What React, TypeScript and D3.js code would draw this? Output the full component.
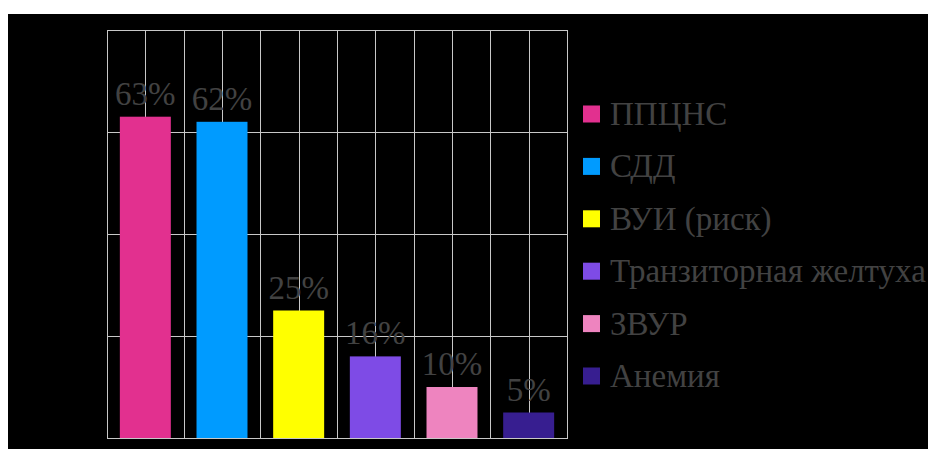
import React from 'react';
import {scaleBand, scaleLinear, range} from 'd3';

// данные диаграммы
const categories = ['ППЦНС', 'СДД', 'ВУИ (риск)', 'Транзиторная желтуха', 'ЗВУР', 'Анемия'];
const values = [63, 62, 25, 16, 10, 5];
const labels = ['63%', '62%', '25%', '16%', '10%', '5%'];
const colors = ['#E2308F', '#009BFF', '#FFFF00', '#7E4BE6', '#EE84BF', '#371E90'];

const W = 920;
const H = 435;
const plot = {left: 99, right: 559, top: 16, bottom: 424};
const serif = {fontFamily: '"Liberation Serif", "Times New Roman", Times, serif'};

const App = () => {
    const x = scaleBand<string>()
        .domain(categories)
        .range([plot.left, plot.right])
        .padding(0);

    const y = scaleLinear()
        .domain([0, 80])
        .range([plot.bottom, plot.top]);

    const bw = x.bandwidth();
    const barW = bw * 0.665;

    // вертикальная сетка: границы и центры категорий
    const vLines = range(categories.length * 2 + 1).map(i => Math.round(plot.left + (i * bw) / 2) + 0.5);
    const hLines = y.ticks(4);

    const legendY = scaleLinear().domain([0, 1]).range([100, 152.4]);

    return (
        <svg width={W} height={H}
             style={{position: 'fixed', left: 8, top: 14, background: '#000', display: 'block'}}>
            <rect width={W} height={H} fill="#000"/>
            {hLines.map(t => (
                <line key={'h' + t} x1={plot.left} x2={plot.right + 1}
                      y1={Math.round(y(t)) + 0.5} y2={Math.round(y(t)) + 0.5}
                      stroke="#c8c8c8" strokeWidth={1}/>
            ))}
            {vLines.map((v, i) => (
                <line key={'v' + i} x1={v} x2={v} y1={plot.top} y2={plot.bottom + 1}
                      stroke="#c8c8c8" strokeWidth={1}/>
            ))}
            {categories.map((c, i) => {
                const cx = (x(c) as number) + bw / 2;
                return (
                    <g key={c}>
                        <rect x={cx - barW / 2} y={y(values[i])} width={barW}
                              height={plot.bottom - y(values[i])} fill={colors[i]}/>
                        <text x={cx} y={y(values[i]) - 12} textAnchor="middle"
                              fontSize={33} fill="#424242" style={serif}>{labels[i]}</text>
                    </g>
                );
            })}
            {categories.map((c, i) => (
                <g key={'lg' + c} transform={`translate(575,${legendY(i)})`}>
                    <rect x={0} y={-8.5} width={17} height={17} fill={colors[i]}/>
                    <text x={27} y={11} fontSize={33} fill="#424242" style={serif}>{c}</text>
                </g>
            ))}
        </svg>
    );
};

export default App;
